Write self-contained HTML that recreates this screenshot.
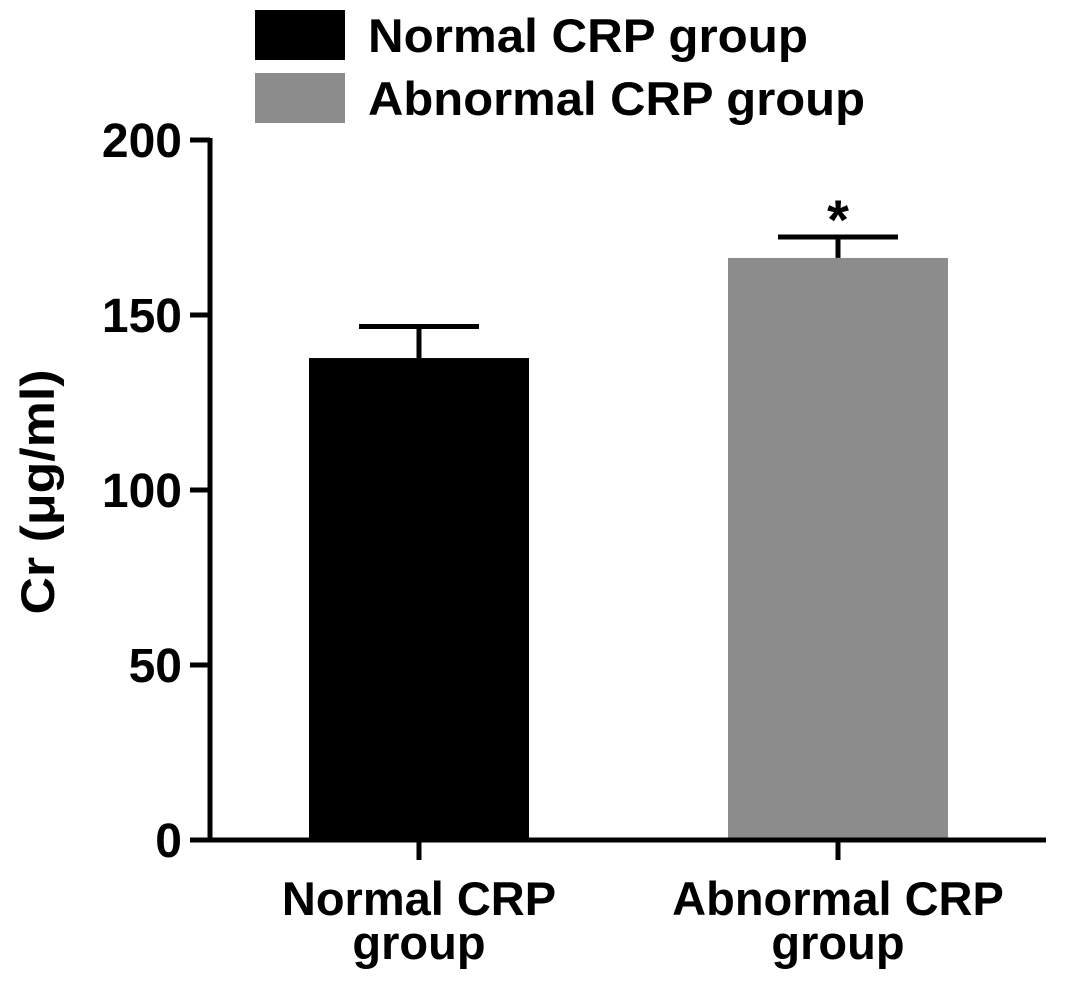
<!DOCTYPE html>
<html><head><meta charset="utf-8"><style>
html,body{margin:0;padding:0;background:#fff}
svg text{font-family:"Liberation Sans",Arial,sans-serif;font-weight:bold;fill:#000}
</style></head><body>
<svg id="chart" width="1087" height="985" viewBox="0 0 1087 985" xmlns="http://www.w3.org/2000/svg">
<g id="legend">
<rect x="255" y="10" width="90" height="50" fill="#000"/>
<text x="368" y="52" font-size="47" textLength="440" lengthAdjust="spacingAndGlyphs">Normal CRP group</text>
<rect x="255" y="73" width="90" height="50" fill="#8c8c8c"/>
<text x="368" y="115" font-size="47" textLength="497" lengthAdjust="spacingAndGlyphs">Abnormal CRP group</text>
</g>
<text transform="translate(54,492) rotate(-90)" text-anchor="middle" font-size="47" textLength="245" lengthAdjust="spacingAndGlyphs">Cr (μg/ml)</text>
<g id="plot"></g>
</svg>
<script>
const categories = ["Normal CRP group", "Abnormal CRP group"];
const categoryLines = [["Normal CRP", "group"], ["Abnormal CRP", "group"]];
const values = [137.7, 166.3];
const errors = [9, 6];
const colors = ["#000", "#8c8c8c"];
const yTicks = [0, 50, 100, 150, 200];
const significance = ["", "*"];

const NS = "http://www.w3.org/2000/svg";
const g = document.getElementById("plot");
const y = v => 840 - v * 3.5;
const xc = i => 419 + i * 419;
function mk(tag, attrs, parent) {
  const e = document.createElementNS(NS, tag);
  for (const k in attrs) e.setAttribute(k, attrs[k]);
  (parent || g).appendChild(e);
  return e;
}
values.forEach((v, i) => {
  const cx = xc(i);
  const top = y(v + errors[i]);
  const l1 = mk("line", {x1: cx, x2: cx, y1: y(v), y2: top, stroke: "#000", "stroke-width": 5});
  
  
  const cap = mk("line", {x1: cx - 60, x2: cx + 60, y1: top, y2: top, stroke: "#000", "stroke-width": 5});
  
  
  const r = mk("rect", {x: cx - 110, y: y(v), width: 220, height: y(0) - y(v), fill: colors[i]});
  
  
  if (significance[i]) {
    const s = mk("text", {x: cx, y: top + 2, "text-anchor": "middle", "font-size": 56});
    s.textContent = significance[i];
    
    
  }
  const t = mk("line", {x1: cx, x2: cx, y1: 840, y2: 860, stroke: "#000", "stroke-width": 5});
  
  
  categoryLines[i].forEach((ln, j) => {
    const lt = mk("text", {x: cx, y: 915 + j * 44, "text-anchor": "middle", "font-size": 47});
    lt.textContent = ln;
    
    
  });
});
yTicks.forEach(v => {
  const t = mk("line", {x1: 190, x2: 210, y1: y(v), y2: y(v), stroke: "#000", "stroke-width": 5});
  
  
  const lt = mk("text", {x: 182, y: y(v) + 17, "text-anchor": "end", "font-size": 48});
  lt.textContent = v;
  
  
});
const ya = mk("line", {x1: 210, x2: 210, y1: y(200) - 2, y2: 842.5, stroke: "#000", "stroke-width": 5});


const xa = mk("line", {x1: 207.5, x2: 1046, y1: 840, y2: 840, stroke: "#000", "stroke-width": 5});


</script>
</body></html>
